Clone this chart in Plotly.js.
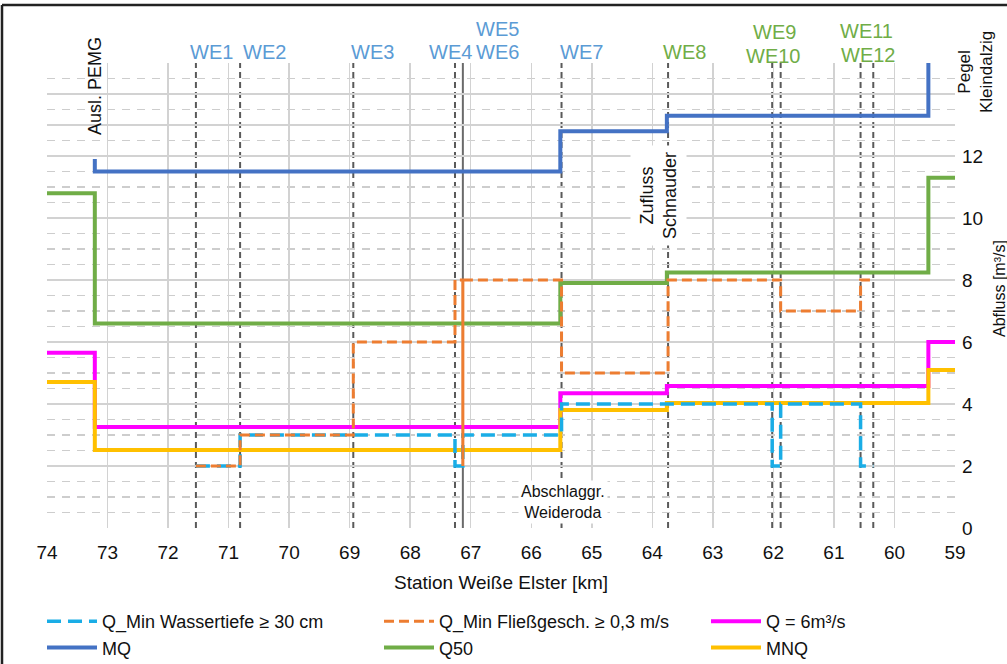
<!DOCTYPE html>
<html>
<head>
<meta charset="utf-8">
<script src="https://cdn.plot.ly/plotly-3.0.1.min.js"></script>
<style>html,body{margin:0;padding:0;background:#fff;}#chart{width:1007px;height:664px;}</style>
</head>
<body>
<div id="chart"></div>
<script>
// ---- data (km stations, discharge in m³/s) ----
const stepKm      = [74, 73.21, 65.52, 63.76, 59.44, 59];
const mqKm        = [73.21, 73.21, 65.52, 63.76, 59.44];
const mqVals      = [11.9, 11.5, 12.8, 13.3, 15];
const q50Vals     = [10.8, 6.6, 7.9, 8.24, 11.3, 11.3];
const q6Vals      = [5.65, 3.26, 4.35, 4.58, 6.0, 6.0];
const mnqVals     = [4.71, 2.52, 3.81, 4.03, 5.1, 5.1];
const fliessKm    = [71.54, 70.81, 68.94, 67.26, 67.13, 67.13, 65.50, 63.74, 61.88, 60.56, 60.35];
const fliessVals  = [2, 3, 6, 8, 2, 8, 5, 8, 7, 8, 8];
const tiefeKm     = [71.54, 70.81, 67.26, 67.13, 65.50, 62.02, 61.88, 60.56, 60.35];
const tiefeVals   = [2, 3, 2, 3, 4, 2, 4, 2, 2];
const weDashedKm  = [71.54, 70.81, 68.94, 67.26, 65.50, 63.74, 62.02, 61.88, 60.56, 60.35];
const weSolidKm   = [67.13];
const xTicks      = [74, 73, 72, 71, 70, 69, 68, 67, 66, 65, 64, 63, 62, 61, 60, 59];
const yTickVals   = [0, 2, 4, 6, 8, 10, 12, 13, 14, 15];
const yTickText   = ['0', '2', '4', '6', '8', '10', '12', '', '', ''];
const seriesNames = ['Q_Min Wassertiefe ≥ 30 cm', 'Q_Min Fließgesch. ≥ 0,3 m/s', 'Q = 6m³/s', 'MQ', 'Q50', 'MNQ'];

const narrow = '"Liberation Sans Narrow", "Arial Narrow", "Liberation Sans", Arial, sans-serif';
const sans = '"Liberation Sans", Arial, sans-serif';

const traces = [
  {x: tiefeKm, y: tiefeVals, name: seriesNames[0], legend: 'legend', line: {shape: 'hv', color: '#1AADE6', width: 3.5, dash: '14px,7px'}},
  {x: fliessKm, y: fliessVals, name: seriesNames[1], legend: 'legend2', line: {shape: 'hv', color: '#ED7D31', width: 3, dash: '10px,5px'}},
  {x: stepKm, y: q6Vals, name: seriesNames[2], legend: 'legend3', line: {shape: 'hv', color: '#FF00FF', width: 4}},
  {x: mqKm, y: mqVals, name: seriesNames[3], legend: 'legend', line: {shape: 'hv', color: '#4472C4', width: 4}},
  {x: stepKm, y: q50Vals, name: seriesNames[4], legend: 'legend2', line: {shape: 'hv', color: '#70AD47', width: 4}},
  {x: stepKm, y: mnqVals, name: seriesNames[5], legend: 'legend3', line: {shape: 'hv', color: '#FFC000', width: 4}}
];
// draw order: dashed lines on top of the solid ones like the reference
const order = [3, 4, 2, 5, 0, 1];
const data = order.map(i => Object.assign({mode: 'lines', legendrank: i + 1, showlegend: true}, traces[i]));

const shapes = [];
weDashedKm.forEach(k => shapes.push({type: 'line', xref: 'x', yref: 'paper', x0: k, x1: k, y0: 0, y1: 1, layer: 'below',
  line: {color: '#5A5A5A', width: 2, dash: '6px,4px'}}));
weSolidKm.forEach(k => shapes.push({type: 'line', xref: 'x', yref: 'paper', x0: k, x1: k, y0: 0, y1: 1, layer: 'below',
  line: {color: '#6A6A6A', width: 2}}));

function pxX(px) { return (px - 47) / 908; }
function pxY(py) { return (528 - py) / 465; }
// outer frame (top + left edge of the figure)
shapes.push({type: 'line', xref: 'paper', yref: 'paper', x0: pxX(2), x1: pxX(1010), y0: pxY(5), y1: pxY(5), line: {color: '#222', width: 2.5}});
shapes.push({type: 'line', xref: 'paper', yref: 'paper', x0: pxX(2), x1: pxX(2), y0: pxY(5), y1: pxY(668), line: {color: '#222', width: 2.5}});

const blue = '#5B9BD5', green = '#70AD47';
function lab(text, px, py, color) {
  return {text: text, xref: 'paper', yref: 'paper', x: pxX(px), y: pxY(py), showarrow: false,
    xanchor: 'center', yanchor: 'middle', font: {family: sans, size: 20, color: color}};
}
function note(text, px, py, size, extra) {
  return Object.assign({text: text, xref: 'paper', yref: 'paper', x: pxX(px), y: pxY(py), showarrow: false,
    xanchor: 'center', yanchor: 'middle', font: {family: sans, size: size, color: '#111'}}, extra || {});
}
const annotations = [
  lab('WE1', 211, 52, blue), lab('WE2', 264, 52, blue), lab('WE3', 372, 52, blue),
  lab('WE4', 450, 52, blue), lab('WE5', 497, 29, blue), lab('WE6', 497, 52, blue),
  lab('WE7', 581, 52, blue), lab('WE8', 684, 52, green),
  lab('WE9', 774, 32, green), lab('WE10', 773, 56, green),
  lab('WE11', 866, 31, green), lab('WE12', 868, 55, green),
  note('Ausl. PEMG', 95, 86, 18, {textangle: -90}),
  note('Pegel<br>Kleindalzig', 975, 72, 17, {textangle: -90}),
  note('Zufluss<br>Schnauder', 658, 196, 18, {textangle: -90, bgcolor: '#fff', borderpad: 6}),
  note('Abschlaggr.<br>Weideroda', 563, 502, 16, {bgcolor: '#fff', borderpad: 2}),
  note('Abfluss [m³/s]', 999, 288, 16, {textangle: -90})
];

// legends placed in container coordinates so they do not push the plot area
function legendAt(px) {
  return {orientation: 'v', x: pxX(px), y: (664 - 603) / 664, xanchor: 'left', yanchor: 'top', xref: 'paper', yref: 'container',
    itemwidth: 50, traceorder: 'normal', bgcolor: 'rgba(0,0,0,0)', borderwidth: 0,
    font: {family: narrow, size: 18, color: '#111'}};
}

const layout = {
  width: 1007, height: 664,
  margin: {l: 47, r: 52, t: 63, b: 136},
  paper_bgcolor: '#fff', plot_bgcolor: '#fff',
  showlegend: true,
  xaxis: {
    range: [74, 59], tickmode: 'array', tickvals: xTicks, ticktext: xTicks.map(String),
    showgrid: true, gridcolor: '#D2D2D2', gridwidth: 1.5, zeroline: false, showline: false, ticks: '',
    ticklabelstandoff: 11,
    tickfont: {family: narrow, size: 19, color: '#111'},
    title: {text: 'Station Weiße Elster [km]', font: {family: narrow, size: 19, color: '#111'}, standoff: 13},
    fixedrange: true
  },
  yaxis: {
    side: 'right', range: [0, 15], tickmode: 'array', tickvals: yTickVals, ticktext: yTickText,
    showgrid: true, gridcolor: '#D2D2D2', gridwidth: 1.5, zeroline: false, showline: false, ticks: '',
    ticklabelstandoff: 6,
    tickfont: {family: sans, size: 19, color: '#111'},
    minor: {dtick: 0.5, tick0: 0, showgrid: true, gridcolor: '#CDCDCD', gridwidth: 1.3, griddash: '8px,7px', ticks: ''},
    fixedrange: true
  },
  legend: legendAt(42),
  legend2: legendAt(379),
  legend3: legendAt(706),
  shapes: shapes,
  annotations: annotations
};

Plotly.newPlot('chart', data, layout, {displayModeBar: false, staticPlot: true});
</script>
</body>
</html>
